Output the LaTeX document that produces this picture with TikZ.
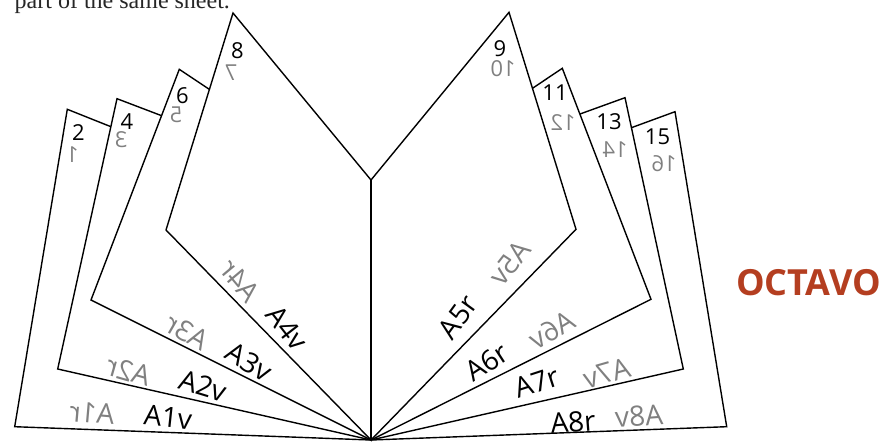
\documentclass[tikz,border=0pt]{standalone}
\usepackage{fontspec}
\setmainfont{Open Sans}
\newfontfamily\sheetserif{Liberation Serif}
\definecolor{rust}{RGB}{180,62,32}
\definecolor{mirrorgray}{RGB}{128,128,128}
\begin{document}
\begin{tikzpicture}[x=1pt,y=-1pt, line width=1.4pt, line join=miter,
  pnum/.style={font=\fontsize{22}{22}\selectfont, inner sep=0pt},
  pmir/.style={pnum, text=mirrorgray, xscale=-1},
  leaf/.style={font=\fontsize{28}{28}\selectfont, inner sep=0pt},
  leafmir/.style={leaf, text=mirrorgray}]
\useasboundingbox (0,0) rectangle (883,442);
\clip (0,0) rectangle (883,442);

% top text (cut off)
\node[anchor=base west, inner sep=0pt, text=black!85,
      font=\sheetserif\fontsize{24}{24}\selectfont] (sheet) at (14,8) {part of the same sheet.};

% key points
\coordinate (base) at (371,440);
\coordinate (vtx) at (371,180);

% left leaves
\draw (base) -- (vtx) -- (233,13) -- (166,230) -- cycle;
\draw (209.3,89.3) -- (179.3,69.3) -- (91,300) -- (base);
\draw (161.6,115.7) -- (117,98.7) -- (57.7,369) -- (base);
\draw (110.9,126.7) -- (67.3,109.3) -- (14.7,426.7) -- (base);

% right leaves
\draw (vtx) -- (509,12.3) -- (576,229.3) -- (base);
\draw (532.5,88.3) -- (562.3,68.3) -- (651,299.3) -- (base);
\draw (580,114) -- (625,97.7) -- (683.3,369) -- (base);
\draw (631.4,127.7) -- (675,111.7) -- (726.7,426.7) -- (base);

\draw[line width=2pt] (vtx) -- (base);

% page numbers
\node[pnum] (n2) at (78.5,133) {2};
\node[pmir] (n1) at (72.5,155) {1};
\node[pnum] (n4) at (127,122) {4};
\node[pmir] (n3) at (121,139.5) {3};
\node[pnum] (n6) at (182.5,95.5) {6};
\node[pmir] (n5) at (176,115) {5};
\node[pnum] (n8) at (237.5,50.5) {8};
\node[pmir] (n7) at (231,73) {7};
\node[pnum] (n9) at (500,49) {9};
\node[pmir] (n10) at (503,69) {10};
\node[pnum] (n11) at (555,93) {11};
\node[pmir] (n12) at (563,122.5) {12};
\node[pnum] (n13) at (609,121.5) {13};
\node[pmir] (n14) at (615,150) {14};
\node[pnum] (n15) at (657.5,136.5) {15};
\node[pmir] (n16) at (664,164) {16};

% leaf labels, left
\node[leaf, rotate=-6] (a1v) at (168,417) {A1v};
\node[leafmir, rotate=-5, xscale=-1] (a1r) at (92,413) {A1r};
\node[leaf, rotate=-17] (a2v) at (203,386) {A2v};
\node[leafmir, rotate=-16, xscale=-1] (a2r) at (129,371) {A2r};
\node[leaf, rotate=-32] (a3v) at (249,362) {A3v};
\node[leafmir, rotate=-30, xscale=-1] (a3r) at (187,332) {A3r};
\node[leaf, rotate=-52] (a4v) at (287,328) {A4v};
\node[leafmir, rotate=-50, xscale=-1] (a4r) at (240,281) {A4r};

% leaf labels, right
\node[leaf, rotate=54] (a5r) at (458,317) {A5r};
\node[leafmir, rotate=52, xscale=-1] (a5v) at (510,263) {A5v};
\node[leaf, rotate=33] (a6r) at (487,362) {A6r};
\node[leafmir, rotate=31, xscale=-1] (a6v) at (552,330) {A6v};
\node[leaf, rotate=18] (a7r) at (537,382) {A7r};
\node[leafmir, rotate=16, xscale=-1] (a7v) at (607,373) {A7v};
\node[leaf, rotate=4.5] (a8r) at (573,422) {A8r};
\node[leafmir, rotate=4.5, xscale=-1] (a8v) at (639,416) {A8v};

% title
\node[inner sep=0pt, text=rust, font=\bfseries\fontsize{36}{36}\selectfont] (title) at (808.5,282.5) {OCTAVO};
\end{tikzpicture}
\end{document}
